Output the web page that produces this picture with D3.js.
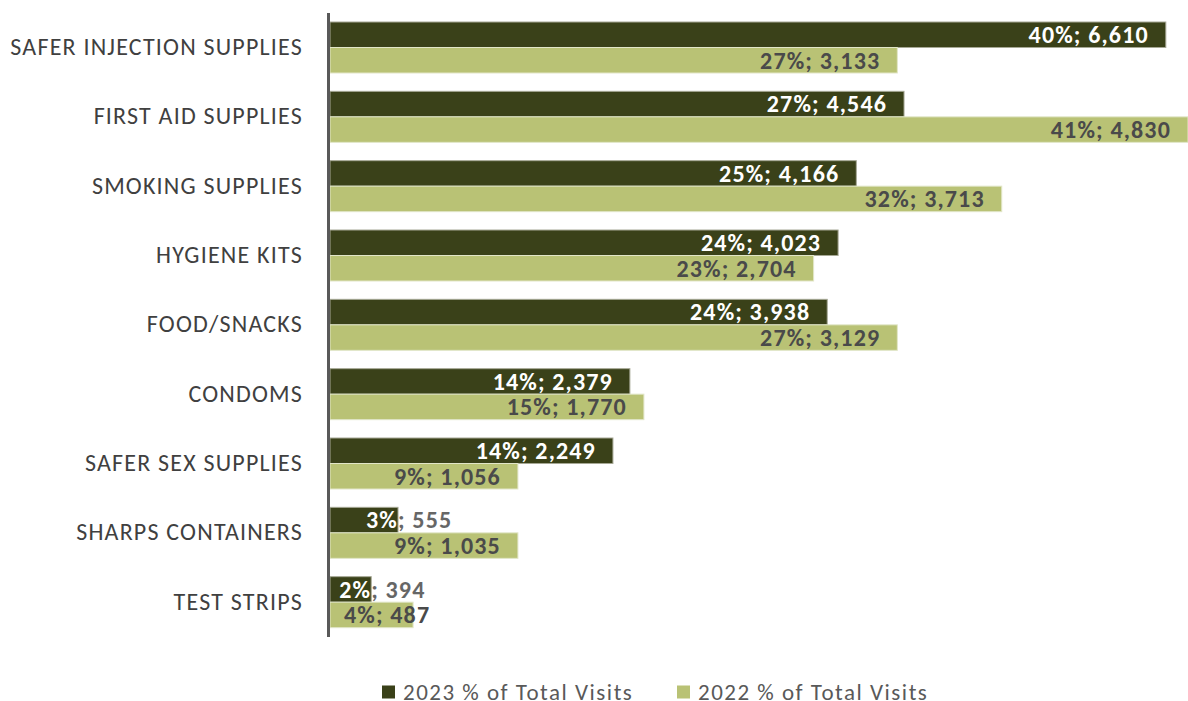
<!DOCTYPE html>
<html>
<head>
<meta charset="utf-8">
<script src="https://cdn.jsdelivr.net/npm/d3@7"></script>
<style>
  html, body { margin: 0; padding: 0; background: #fff; }
  svg { display: block; }
  text { font-family: Carlito, Calibri, Lato, "Open Sans", sans-serif; letter-spacing: 1.15px; }
</style>
</head>
<body>
<svg id="chart" width="1188" height="701"></svg>
<script>
// ---- data ----
const categories = ["SAFER INJECTION SUPPLIES", "FIRST AID SUPPLIES", "SMOKING SUPPLIES", "HYGIENE KITS",
  "FOOD/SNACKS", "CONDOMS", "SAFER SEX SUPPLIES", "SHARPS CONTAINERS", "TEST STRIPS"];
const series = ["2023 % of Total Visits", "2022 % of Total Visits"];
// share of total visits (%)
const pct2023 = [39.94, 27.43, 25.15, 24.28, 23.76, 14.33, 13.52, 3.25, 1.97];
const pct2022 = [27.11, 41.0, 32.1, 23.11, 27.11, 15.0, 8.98, 8.98, 3.97];
// printed labels
const pctLabel2023 = ["40%", "27%", "25%", "24%", "24%", "14%", "14%", "3%", "2%"];
const count2023 = [6610, 4546, 4166, 4023, 3938, 2379, 2249, 555, 394];
const pctLabel2022 = ["27%", "41%", "32%", "23%", "27%", "15%", "9%", "9%", "4%"];
const count2022 = [3133, 4830, 3713, 2704, 3129, 1770, 1056, 1035, 487];
const colors = ["#3A4119", "#B9C275"];

// ---- layout ----
const svg = d3.select("#chart");
const defs = svg.append("defs");
const x0 = 330, xMax = 1188, plotTop = 13, plotBottom = 637;
const x = d3.scaleLinear().domain([0, 41]).range([x0, xMax]);
const y = d3.scaleBand().domain(categories).range([plotTop, plotBottom]).paddingInner(0).paddingOuter(0);
const band = y.bandwidth();
const barH = 25.5;
const inner = d3.scaleBand().domain([0, 1]).range([9, 9 + 2 * barH]);
const fmt = d3.format(",");

const rows = categories.map((c, i) => ({
  cat: c,
  bars: [
    { s: 0, v: pct2023[i], pl: pctLabel2023[i], n: count2023[i] },
    { s: 1, v: pct2022[i], pl: pctLabel2022[i], n: count2022[i] }
  ]
}));

const g = svg.append("g");
const groups = g.selectAll("g.cat").data(rows).join("g")
  .attr("class", "cat")
  .attr("transform", d => `translate(0,${y(d.cat)})`);

groups.each(function(row, i) {
  const gg = d3.select(this);
  row.bars.forEach(b => {
    const by = inner(b.s);
    gg.append("rect")
      .attr("x", x(0))
      .attr("y", by)
      .attr("width", x(b.v) - x(0))
      .attr("height", barH)
      .attr("fill", colors[b.s])
      .attr("stroke", b.s === 0 ? "#A6A895" : "#E2E6C8")
      .attr("stroke-width", 1);
  });
});

// category labels
svg.append("g").selectAll("text").data(categories).join("text")
  .attr("x", 303)
  .attr("y", d => y(d) + band / 2 - 1)
  .attr("dy", "0.35em")
  .attr("text-anchor", "end")
  .attr("font-size", 24)
  .attr("fill", "#404040")
  .style("letter-spacing", "1.2px")
  .text(d => d);

// data labels
groups.each(function(row, i) {
  const gg = d3.select(this);
  row.bars.forEach(b => {
    const by = inner(b.s);
    const barEnd = x(b.v);
    const cy = by + barH / 2;
    const t = gg.append("text")
      .attr("y", cy)
      .attr("dy", "0.35em")
      .attr("font-size", 24)
      .attr("font-weight", "bold")
      .attr("text-anchor", "start")
      .text(b.pl + "; " + fmt(b.n));
    const w = t.node().getComputedTextLength();
    let sx = barEnd - 17 - w;
    const inside = sx >= x0 + 10;
    if (!inside) {
      if (b.s === 1) {
        sx = x0 + 14;
      } else {
        const pw = t.node().getSubStringLength(0, b.pl.length);
        sx = barEnd - pw;
      }
    }
    t.attr("x", sx);
    if (b.s === 0) {
      if (inside) {
        t.attr("fill", "#FFFFFF");
      } else {
        // white over the bar, grey beyond its end
        const id = "lblgrad" + i;
        const grad = defs.append("linearGradient").attr("id", id)
          .attr("gradientUnits", "userSpaceOnUse")
          .attr("x1", x0).attr("x2", xMax).attr("y1", 0).attr("y2", 0);
        const f = (barEnd - x0) / (xMax - x0);
        grad.append("stop").attr("offset", f).attr("stop-color", "#FFFFFF");
        grad.append("stop").attr("offset", f).attr("stop-color", "#666666");
        t.attr("fill", `url(#${id})`);
      }
    } else {
      t.attr("fill", "#4A4A4A");
    }
  });
});

// axis line (category axis)
svg.append("line")
  .attr("x1", 328.5).attr("x2", 328.5)
  .attr("y1", plotTop).attr("y2", plotBottom)
  .attr("stroke", "#595959").attr("stroke-width", 3);

// legend
const legendX = [382, 677];
const lg = svg.append("g").selectAll("g").data(series).join("g")
  .attr("transform", (d, i) => `translate(${legendX[i]},692)`);
lg.append("rect").attr("x", 0).attr("y", -6.5).attr("width", 13).attr("height", 13)
  .attr("fill", (d, i) => colors[i]);
lg.append("text").attr("x", 21).attr("y", 0).attr("dy", "0.33em")
  .attr("font-size", 23).attr("fill", "#595959")
  .style("letter-spacing", "1.5px")
  .text(d => d);
</script>
</body>
</html>
